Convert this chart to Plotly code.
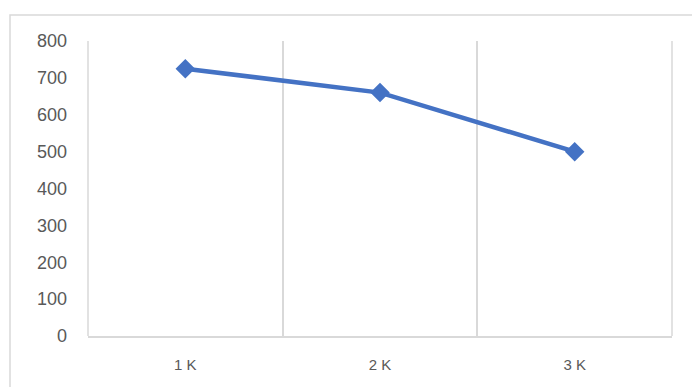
import plotly.graph_objects as go

categories = ["1 K", "2 K", "3 K"]
values = [725, 660, 500]
y_ticks = [0, 100, 200, 300, 400, 500, 600, 700, 800]

W, H = 692, 387
ml, mr, mt, mb = 88, 20, 41, 51
pw, ph = W - ml - mr, H - mt - mb

fig = go.Figure()
fig.add_trace(go.Scatter(
    x=categories, y=values, mode="lines+markers",
    line=dict(color="#4472C4", width=4.5),
    marker=dict(symbol="diamond", size=15, color="#4472C4"),
    hoverinfo="skip", showlegend=False,
))

grid = dict(color="#d9d9d9", width=1.5)
shapes = [dict(
    type="rect", xref="paper", yref="paper",
    x0=(10 - ml) / pw, x1=1.5,
    y0=-0.5, y1=1 + (mt - 15) / ph,
    line=grid, layer="below",
)]
for xp in (0, 1):
    shapes.append(dict(type="line", xref="paper", yref="paper",
                       x0=xp, x1=xp, y0=0, y1=1, line=grid, layer="below"))

fig.update_layout(
    width=W, height=H,
    margin=dict(l=ml, r=mr, t=mt, b=mb),
    paper_bgcolor="white", plot_bgcolor="white",
    xaxis=dict(
        type="category", range=[-0.5, 2.5], tickson="boundaries",
        showgrid=True, gridcolor="#d9d9d9", gridwidth=1.5,
        showline=True, linecolor="#d9d9d9", linewidth=1.5,
        ticks="", ticklen=0, ticklabelstandoff=14,
        tickfont=dict(family="Liberation Sans", size=15, color="#595959"),
        zeroline=False, fixedrange=True,
    ),
    yaxis=dict(
        range=[0, 800], tickvals=y_ticks, ticktext=[str(v) for v in y_ticks],
        showgrid=False, zeroline=False, showline=False, ticks="",
        ticklabelstandoff=20,
        tickfont=dict(family="Liberation Sans", size=18, color="#595959"),
        fixedrange=True,
    ),
    shapes=shapes,
)

fig.write_html("out.html")
